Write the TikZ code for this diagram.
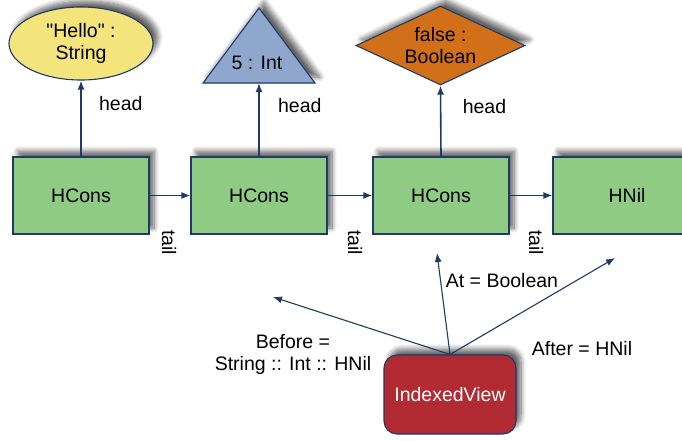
\documentclass[tikz,border=0pt]{standalone}
\usepackage{fontspec}
\setmainfont{Liberation Sans}
\newfontfamily\plainfont{Liberation Sans}
\usetikzlibrary{shapes.geometric,shadows.blur,arrows.meta}
\definecolor{navy}{HTML}{1E3A66}
\definecolor{boxgreen}{HTML}{8FCB83}
\definecolor{elyellow}{HTML}{F3E57C}
\definecolor{triblue}{HTML}{8FA7CC}
\definecolor{diaorange}{HTML}{D17019}
\definecolor{ivred}{HTML}{B22B33}
\tikzset{
  shad/.style={blur shadow={shadow xshift=5pt, shadow yshift=6pt, shadow blur steps=8, shadow opacity=60, shadow blur radius=5pt}},
  hbox/.style={rectangle, draw=navy, line width=1.1pt, fill=boxgreen, minimum width=136pt, minimum height=77pt, inner sep=0pt, shad},
  conn/.style={draw=navy, line width=1.6pt, -{Latex[length=9pt,width=7pt]}},
  thin conn/.style={draw=navy, line width=1.1pt, -{Latex[length=9pt,width=7pt]}},
  lbl/.style={inner sep=0pt, align=center},
}
\begin{document}
\begin{tikzpicture}[x=1pt, y=-1pt, font=\plainfont\fontsize{19.5}{22}\selectfont]
\useasboundingbox (0,0) rectangle (682,440);
\clip (0,0) rectangle (682,440);
% top elements
\node[ellipse, draw=navy, line width=1.1pt, fill=elyellow, minimum width=144pt, minimum height=73pt, inner sep=0pt, align=center, shad] (hello) at (81,43.5) {"Hello" :\\String};
\path[draw=navy, line width=1.1pt, fill=triblue, shad] (259,8) -- (315,83) -- (203,83) -- cycle;
\node[lbl] (five) at (257,63) {5 : Int};
\coordinate (tribase) at (259,83);
\node[diamond, draw=navy, line width=1.1pt, fill=diaorange, minimum width=169pt, minimum height=79pt, inner sep=0pt, aspect=2.14, align=center, shad] (false) at (440.5,45.5) {false :\\Boolean};
% boxes
\node[hbox] (c1) at (81,195.5) {HCons};
\node[hbox] (c2) at (259,195.5) {HCons};
\node[hbox] (c3) at (441,195.5) {HCons};
\node[hbox, minimum width=148pt] (nil) at (627,195.5) {HNil};
% head arrows
\draw[conn] (c1.north) -- (hello.south) node[pos=0.7, right, xshift=14pt] {head};
\draw[conn] (c2.north) -- (tribase) node[pos=0.7, right, xshift=15pt] {head};
\draw[conn] (c3.north) -- (false.south) node[pos=0.7, right, xshift=18pt] {head};
% tail arrows
\draw[conn] (c1.east) -- (c2.west) node[midway, xshift=-1pt, yshift=-47pt, rotate=-90] {tail};
\draw[conn] (c2.east) -- (c3.west) node[midway, xshift=5pt, yshift=-47pt, rotate=-90] {tail};
\draw[conn] (c3.east) -- (nil.west) node[midway, xshift=5pt, yshift=-47pt, rotate=-90] {tail};
% indexed view
\node[rectangle, rounded corners=13pt, draw=navy, line width=1.1pt, fill=ivred, text=white, minimum width=132pt, minimum height=79pt, inner sep=0pt, shad] (iv) at (450,394.5) {IndexedView};
\coordinate (beforetip) at (273,297);
\coordinate (attip) at (437,253);
\coordinate (aftertip) at (615,258);
\draw[thin conn] (iv.north) -- (beforetip);
\draw[thin conn] (iv.north) -- (attip);
\draw[thin conn] (iv.north) -- (aftertip);
\node[lbl] (before) at (293,354) {Before =\\String :: Int :: HNil};
\node[lbl] (at) at (502,281) {At = Boolean};
\node[lbl] (after) at (582,349) {After = HNil};
\end{tikzpicture}
\end{document}
